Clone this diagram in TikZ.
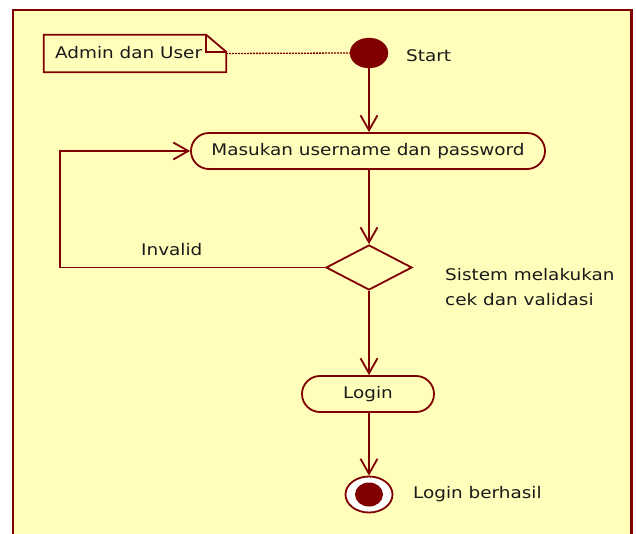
\documentclass[tikz,border=0pt]{standalone}
\usepackage{fontspec}
\setmainfont{DejaVu Sans}[FakeStretch=1.15]
\usetikzlibrary{arrows.meta,shapes.geometric,shapes.misc}
\definecolor{umlred}{HTML}{800000}
\definecolor{umlfill}{HTML}{FFFFBB}
\definecolor{umltext}{HTML}{1A1A1A}
\tikzset{
  frame/.style={draw=umlred, line width=2.6pt, fill=umlfill},
  flow/.style={draw=umlred, line width=1.8pt, -{Straight Barb[length=15pt,width=17pt,line width=1.8pt]}},
  activity/.style={rounded rectangle, draw=umlred, line width=1.8pt, fill=umlfill,
    minimum height=36pt, inner sep=0pt, text=umltext},
  decision/.style={diamond, draw=umlred, line width=1.8pt, fill=umlfill,
    minimum width=86pt, minimum height=45pt, inner sep=0pt, aspect=1.9},
  initial/.style={ellipse, fill=umlred, draw=umlred, minimum width=38pt, minimum height=30pt, inner sep=0pt},
  finalouter/.style={ellipse, fill=white, draw=umlred, line width=1.8pt, minimum width=47pt, minimum height=36pt, inner sep=0pt},
  finalinner/.style={ellipse, fill=umlred, minimum width=28pt, minimum height=24pt, inner sep=0pt},
  label/.style={text=umltext, inner sep=0pt, anchor=west},
  notelink/.style={draw=umlred, line width=1.3pt, dash pattern=on 2pt off 1pt},
  noteedge/.style={draw=umlred, line width=1.8pt}
}
\begin{document}
\begin{tikzpicture}[x=1pt, y=-1pt, font=\fontsize{16}{25}\selectfont]
  \useasboundingbox (0,0) rectangle (636,534);
  \begin{scope}
    \clip (0,0) rectangle (636,534);
    \fill[white] (0,0) rectangle (636,534);
    \path[frame] (13,10) rectangle (631.5,560);
  \end{scope}

  % comment note
  \node[rectangle, minimum width=182pt, minimum height=37pt, inner sep=0pt] (note) at (135,53.5) {};
  \path[noteedge, fill=umlfill] (note.south west) -- (note.north west)
    -- ([xshift=-20pt]note.north east) -- ([yshift=-17pt]note.north east)
    -- (note.south east) -- cycle;
  \path[noteedge] ([xshift=-20pt]note.north east) -- ([xshift=-20pt,yshift=-17pt]note.north east)
    -- ([yshift=-17pt]note.north east);
  \node[label] (notetext) at (55,53) {Admin dan User};

  % activity nodes
  \node[initial] (start) at (369,53) {};
  \node[label] (startlbl) at (406,56) {Start};
  \node[activity, minimum width=354pt] (input) at (368,151) {Masukan username dan password};
  \node[decision] (check) at (369,267.5) {};
  \node[label, align=left] (checklbl) at (445,287.5) {Sistem melakukan\\cek dan validasi};
  \node[activity, minimum width=132pt] (login) at (368,394) {Login};
  \node[finalouter] (final) at (369,494.5) {};
  \node[finalinner] (finaldot) at (369,494.5) {};
  \node[label] (finallbl) at (413,494) {Login berhasil};
  \node[label] (invalid) at (141,250) {Invalid};
  \coordinate (loopcorner) at (60,267.5);

  % connectors
  \draw[notelink] (note.east) -- (start.west);
  \draw[flow] (start) -- (start |- input.north);
  \draw[flow] (check |- input.south) -- (check.north);
  \draw[flow] (check.south) -- (check |- login.north);
  \draw[flow] (check |- login.south) -- (final.north);
  \draw[flow] (check.west) -- (loopcorner) |- (input.west);
\end{tikzpicture}
\end{document}
